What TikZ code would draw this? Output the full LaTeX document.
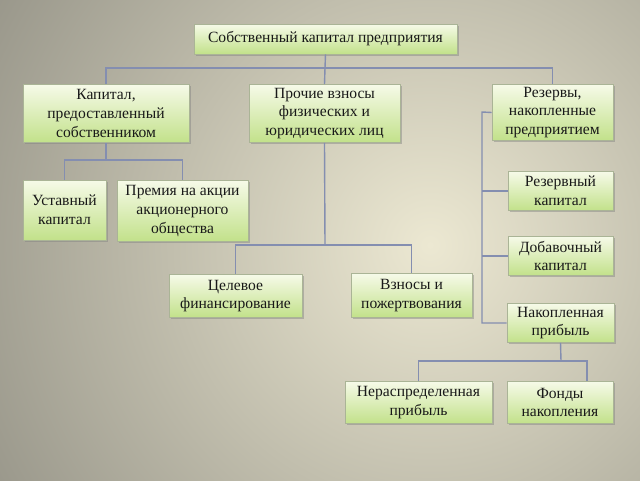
\documentclass[tikz,border=0pt]{standalone}
\usepackage{fontspec}
\setmainfont{Liberation Serif}
\newfontfamily\boxfont{Liberation Serif}
\usepackage{tikz}
\usetikzlibrary{shadows}

\definecolor{bgin}{RGB}{236,232,210}
\definecolor{bgout}{RGB}{150,148,136}
\definecolor{boxtop}{RGB}{246,250,232}
\definecolor{boxbot}{RGB}{194,225,138}
\definecolor{boxline}{RGB}{170,180,150}
\definecolor{linkcol}{RGB}{132,142,176}

\begin{document}
\begin{tikzpicture}[
   x=1pt,y=-1pt,
   font=\boxfont\fontsize{15.6}{18.6}\selectfont,
   box/.style={draw=boxline,line width=0.6pt,top color=boxtop,bottom color=boxbot,
      align=center,inner sep=0pt,text=black!90,
      drop shadow={shadow xshift=1.6pt,shadow yshift=-1.8pt,opacity=0.45}},
   link/.style={draw=linkcol,line width=1.4pt}]
\useasboundingbox (0,0) rectangle (640,480);
\begin{scope}
\clip (0,0) rectangle (640,480);
\fill[inner color=bgin,outer color=bgout] (430,245) circle (520);
\end{scope}

\node[box,minimum width=263pt,minimum height=30pt] (top) at (325.5,39) {Собственный капитал предприятия};
\node[box,minimum width=166pt,minimum height=58pt] (kap) at (106,113.5) {Капитал,\\предоставленный\\собственником};
\node[box,minimum width=151pt,minimum height=58pt] (proch) at (324.5,113.5) {Прочие взносы\\физических и\\юридических лиц};
\node[box,minimum width=121pt,minimum height=56pt] (rez) at (552.5,112.5) {Резервы,\\накопленные\\предприятием};
\node[box,minimum width=83pt,minimum height=60pt] (ust) at (64.5,210) {Уставный\\капитал};
\node[box,minimum width=131pt,minimum height=61pt] (prem) at (182.5,211) {Премия на акции\\акционерного\\общества};
\node[box,minimum width=133pt,minimum height=43pt] (cel) at (235.5,296) {Целевое\\финансирование};
\node[box,minimum width=121pt,minimum height=44pt] (vzn) at (411.5,295.5) {Взносы и\\пожертвования};
\node[box,minimum width=105pt,minimum height=39pt] (rezk) at (560.5,191) {Резервный\\капитал};
\node[box,minimum width=105pt,minimum height=39pt] (dob) at (560.5,256) {Добавочный\\капитал};
\node[box,minimum width=107pt,minimum height=39pt] (nak) at (560.5,323) {Накопленная\\прибыль};
\node[box,minimum width=147pt,minimum height=42pt] (nerasp) at (418.5,402.5) {Нераспределенная\\прибыль};
\node[box,minimum width=106pt,minimum height=42pt] (fond) at (560,402.5) {Фонды\\накопления};

% connectors
\coordinate (b1) at (325,68);
\coordinate (b2) at (106,160);
\coordinate (b3) at (325,245);
\coordinate (b4) at (482,112);
\coordinate (b5) at (561,361);
\coordinate (f1) at ([xshift=27pt]fond.north);
\draw[link] (top.south) -- (b1);
\draw[link] (kap.north) |- (b1) -| (rez.north);
\draw[link] (proch.north) -- (b1);
\draw[link] (kap.south) -- (b2);
\draw[link] (ust.north) |- (b2) -| (prem.north);
\draw[link] (proch.south) -- (b3);
\draw[link] (cel.north) |- (b3) -| (vzn.north);
\draw[link] (rez.west) -- (b4) |- (nak.west);
\draw[link] (b4 |- rezk.west) -- (rezk.west);
\draw[link] (b4 |- dob.west) -- (dob.west);
\draw[link] (nak.south) -- (b5);
\draw[link] (nerasp.north) |- (b5) -| (f1);
\end{tikzpicture}
\end{document}
